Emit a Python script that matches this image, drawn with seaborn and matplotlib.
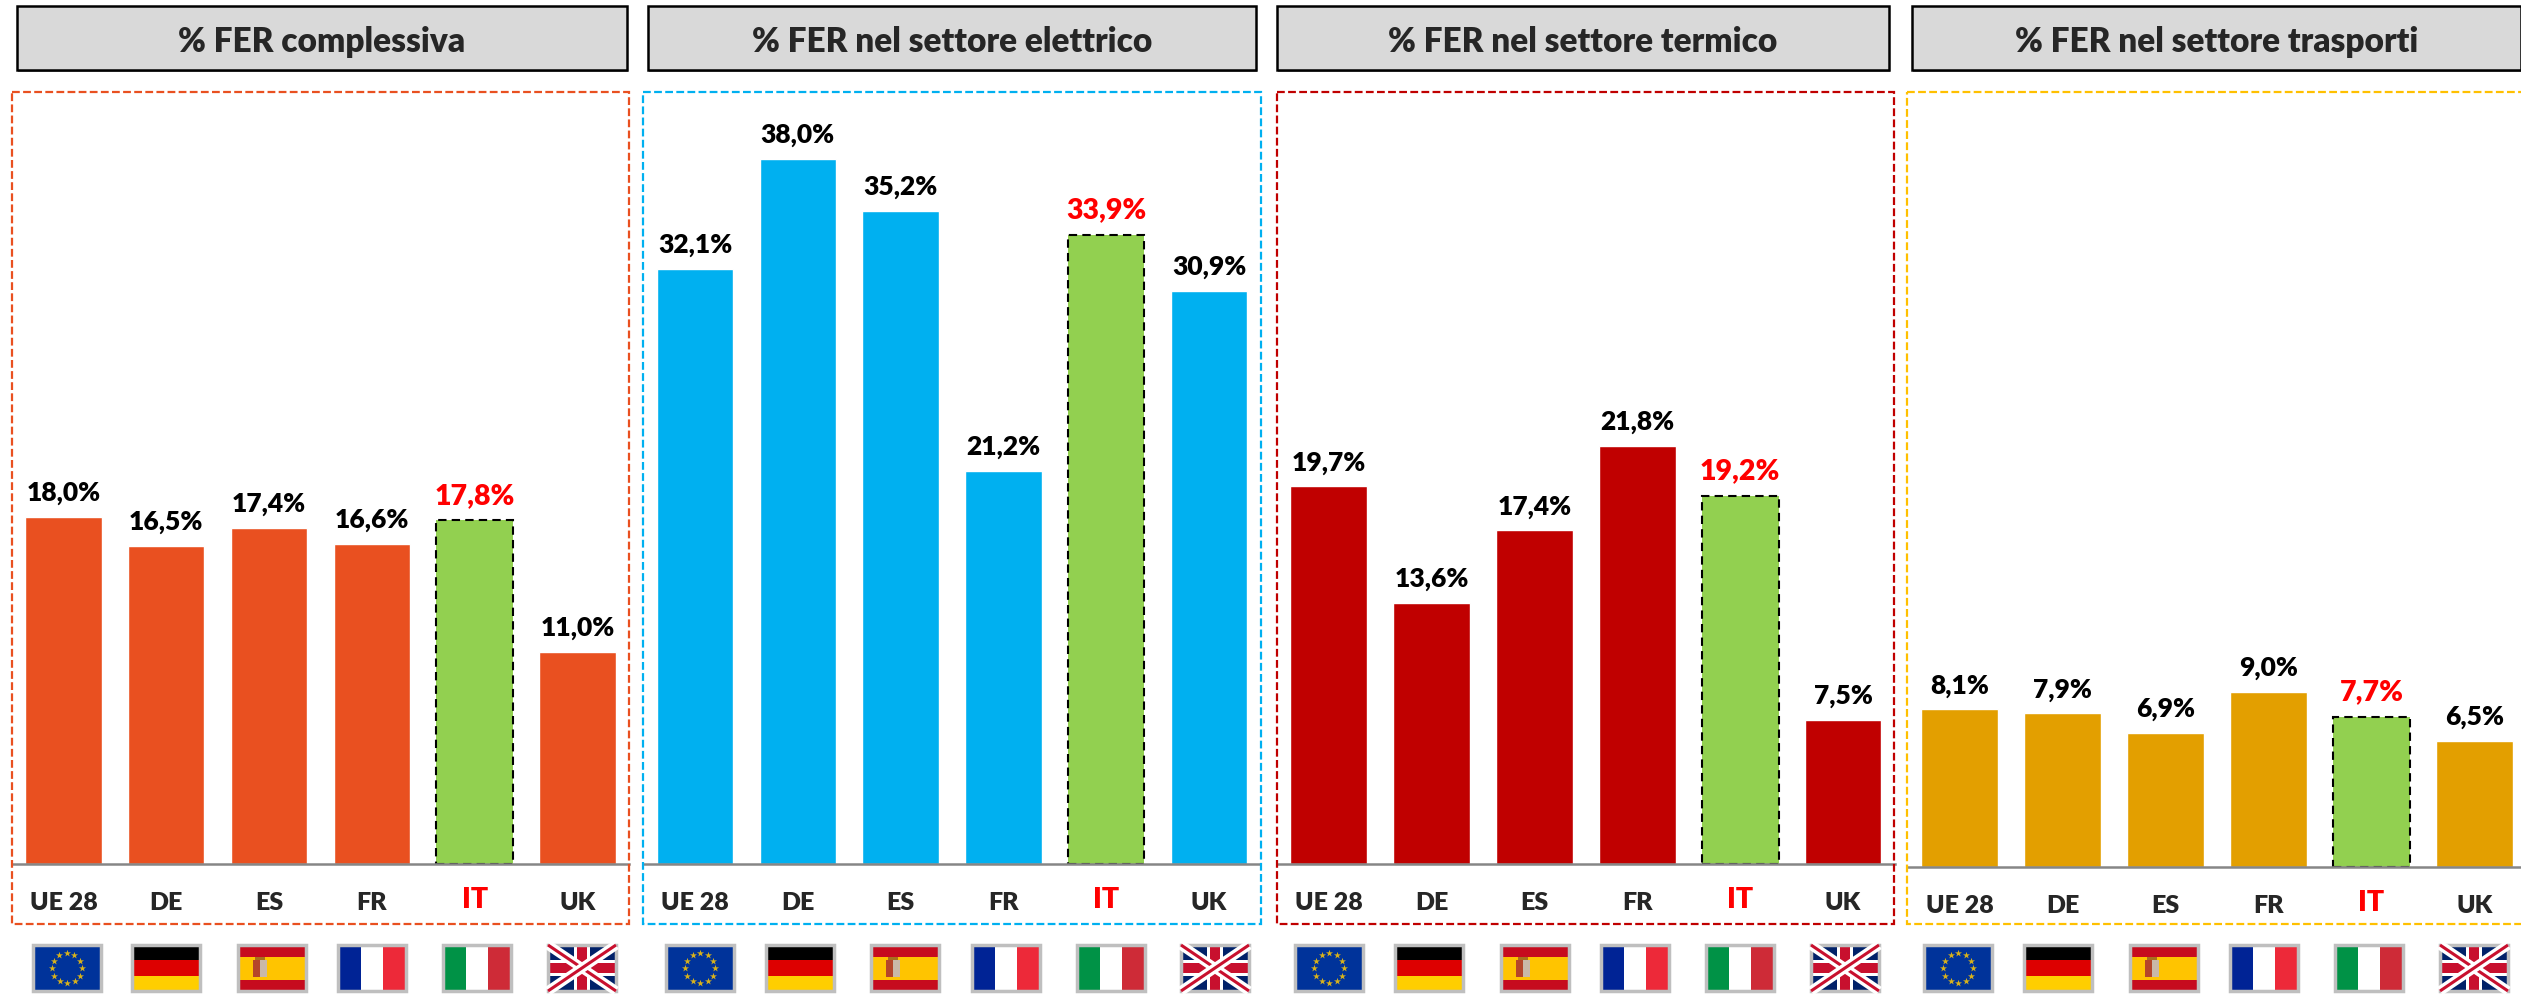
import numpy as np
import seaborn as sns
import matplotlib.pyplot as plt
from matplotlib.patches import Rectangle

countries = ["UE 28", "DE", "ES", "FR", "IT", "UK"]
titles = ["% FER complessiva", "% FER nel settore elettrico", "% FER nel settore termico", "% FER nel settore trasporti"]
fer_tot = [18.0, 16.5, 17.4, 16.6, 17.8, 11.0]
fer_ele = [32.1, 38.0, 35.2, 21.2, 33.9, 30.9]
fer_ter = [19.7, 13.6, 17.4, 21.8, 19.2, 7.5]
fer_tra = [8.1, 7.9, 6.9, 9.0, 7.7, 6.5]
series = [fer_tot, fer_ele, fer_ter, fer_tra]

bar_colors = ["#E95020", "#00B0F0", "#C00000", "#E39F00"]
box_colors = ["#E95020", "#00B0F0", "#C00000", "#FFC000"]
green = "#92D050"

W, H = 2521, 994
# layout in image pixels: first bar centre, spacing, baseline, px per unit
first_c = [63.4, 695, 1328.6, 1959.5]
spacing = [102.8, 102.8, 102.9, 103]
base_y = [864, 864, 864, 867]
px_unit = [19.3, 18.55, 19.17, 19.45]
headers = [(17, 627), (648, 1256), (1277, 1889), (1912, 2521)]
boxes = [(12, 629), (643, 1261), (1277, 1894), (1907, 2540)]
flag_c = [[67, 166, 272, 372, 477, 582],
          [700, 800, 905, 1006, 1111, 1215],
          [1329, 1429, 1535, 1635, 1740, 1845],
          [1958, 2058, 2164, 2264, 2369, 2474]]
top_y = 92

sns.set_style("white")
plt.rcParams['font.family'] = ['Lato', 'DejaVu Sans']

fig = plt.figure(figsize=(W / 100, H / 100), dpi=100)
over = fig.add_axes([0, 0, 1, 1], zorder=5)
over.set_xlim(0, W)
over.set_ylim(H, 0)
over.axis("off")
over.patch.set_alpha(0)


def rect(x, y, w, h, **kw):
    over.add_patch(Rectangle((x, y), w, h, **kw))


def draw_flag(name, cx):
    x, y, w, h = cx - 34, 945, 68, 46
    if name == "UE 28":
        rect(x, y, w, h, fc="#00339A", lw=0)
        t = np.linspace(0, 2 * np.pi, 12, endpoint=False)
        over.scatter(cx + 15 * np.cos(t), y + h / 2 + 15 * np.sin(t), marker="*", s=28, c="#D9B21C", lw=0)
    elif name == "DE":
        for i, c in enumerate(["#000000", "#DD0000", "#FFCE00"]):
            rect(x, y + i * h / 3, w, h / 3, fc=c, lw=0)
    elif name == "ES":
        rect(x, y, w, h, fc="#C60B1E", lw=0)
        rect(x, y + h / 4, w, h / 2, fc="#FFC400", lw=0)
        rect(x + 15, y + 15, 7, 17, fc="#B5452A", lw=0)
        rect(x + 22, y + 15, 7, 17, fc="#C9B8A8", lw=0)
        rect(x + 17, y + 12, 10, 3, fc="#A8701E", lw=0)
    elif name == "FR":
        for i, c in enumerate(["#002395", "#FFFFFF", "#ED2939"]):
            rect(x + i * w / 3, y, w / 3, h, fc=c, lw=0)
    elif name == "IT":
        for i, c in enumerate(["#009246", "#FFFFFF", "#CE2B37"]):
            rect(x + i * w / 3, y, w / 3, h, fc=c, lw=0)
    else:
        rect(x, y, w, h, fc="#012169", lw=0)
        clip = Rectangle((x, y), w, h, transform=over.transData)
        for xs, ys in [((x, x + w), (y, y + h)), ((x, x + w), (y + h, y))]:
            over.plot(xs, ys, color="white", lw=7, solid_capstyle="butt", clip_path=clip)
            over.plot(xs, ys, color="#C8102E", lw=2.2, solid_capstyle="butt", clip_path=clip)
        rect(cx - 8, y, 16, h, fc="white", lw=0)
        rect(x, y + h / 2 - 8, w, 16, fc="white", lw=0)
        rect(cx - 5, y, 10, h, fc="#C8102E", lw=0)
        rect(x, y + h / 2 - 5, w, 10, fc="#C8102E", lw=0)
    rect(x, y, w, h, fc="none", ec="#BFBFBF", lw=2.5)


for i, vals in enumerate(series):
    left = first_c[i] - spacing[i] / 2
    ax_w = spacing[i] * 6
    ax_h = base_y[i] - top_y
    ax = fig.add_axes([left / W, 1 - base_y[i] / H, ax_w / W, ax_h / H])
    sns.barplot(x=countries, y=vals, hue=countries, palette=[bar_colors[i]] * 4 + [green] + [bar_colors[i]],
                width=0.745, legend=False, ax=ax, saturation=1)
    ax.set_xlim(-0.5, 5.5)
    ax.set_ylim(0, ax_h / px_unit[i])
    ax.patch.set_alpha(0)
    sns.despine(ax=ax, left=True)
    ax.spines["bottom"].set_color("#868686")
    ax.spines["bottom"].set_linewidth(1.8)
    ax.set_yticks([])
    ax.tick_params(axis="x", length=0, pad=20.5)
    ax.xaxis.get_major_ticks()[4].set_pad(16.5)
    for lab, name in zip(ax.get_xticklabels(), countries):
        lab.set_fontweight(800)
        lab.set_fontsize(18)
        if name == "IT":
            lab.set_color("red")
            lab.set_fontsize(20.5)
    for bar, name, v in zip(ax.patches, countries, vals):
        is_it = name == "IT"
        if is_it:
            bar.set_edgecolor("black")
            bar.set_linestyle((0, (4, 2.5)))
            bar.set_linewidth(1.5)
        ax.annotate(f"{v:.1f}".replace(".", ",") + "%", (bar.get_x() + bar.get_width() / 2, v),
                    xytext=(0, 8.5), textcoords="offset points", ha="center", va="bottom",
                    fontweight=800, fontsize=20.5 if is_it else 19, color="red" if is_it else "black")

    x0, x1 = headers[i]
    rect(x0 + 1, 7, x1 - x0, 65, fc="#7F7F7F", lw=0)
    rect(x0, 6, x1 - x0, 64, fc="#D9D9D9", ec="black", lw=1.8)
    over.text((x0 + x1) / 2, 42, titles[i], ha="center", va="center", fontweight=800, fontsize=24)

    b0, b1 = boxes[i]
    rect(b0, top_y, b1 - b0, 924 - top_y, fc="none", ec=box_colors[i], lw=1.6, ls=(0, (3.5, 1.5)))

    for name, cx in zip(countries, flag_c[i]):
        draw_flag(name, cx)

fig.savefig("out.png", dpi=100)
